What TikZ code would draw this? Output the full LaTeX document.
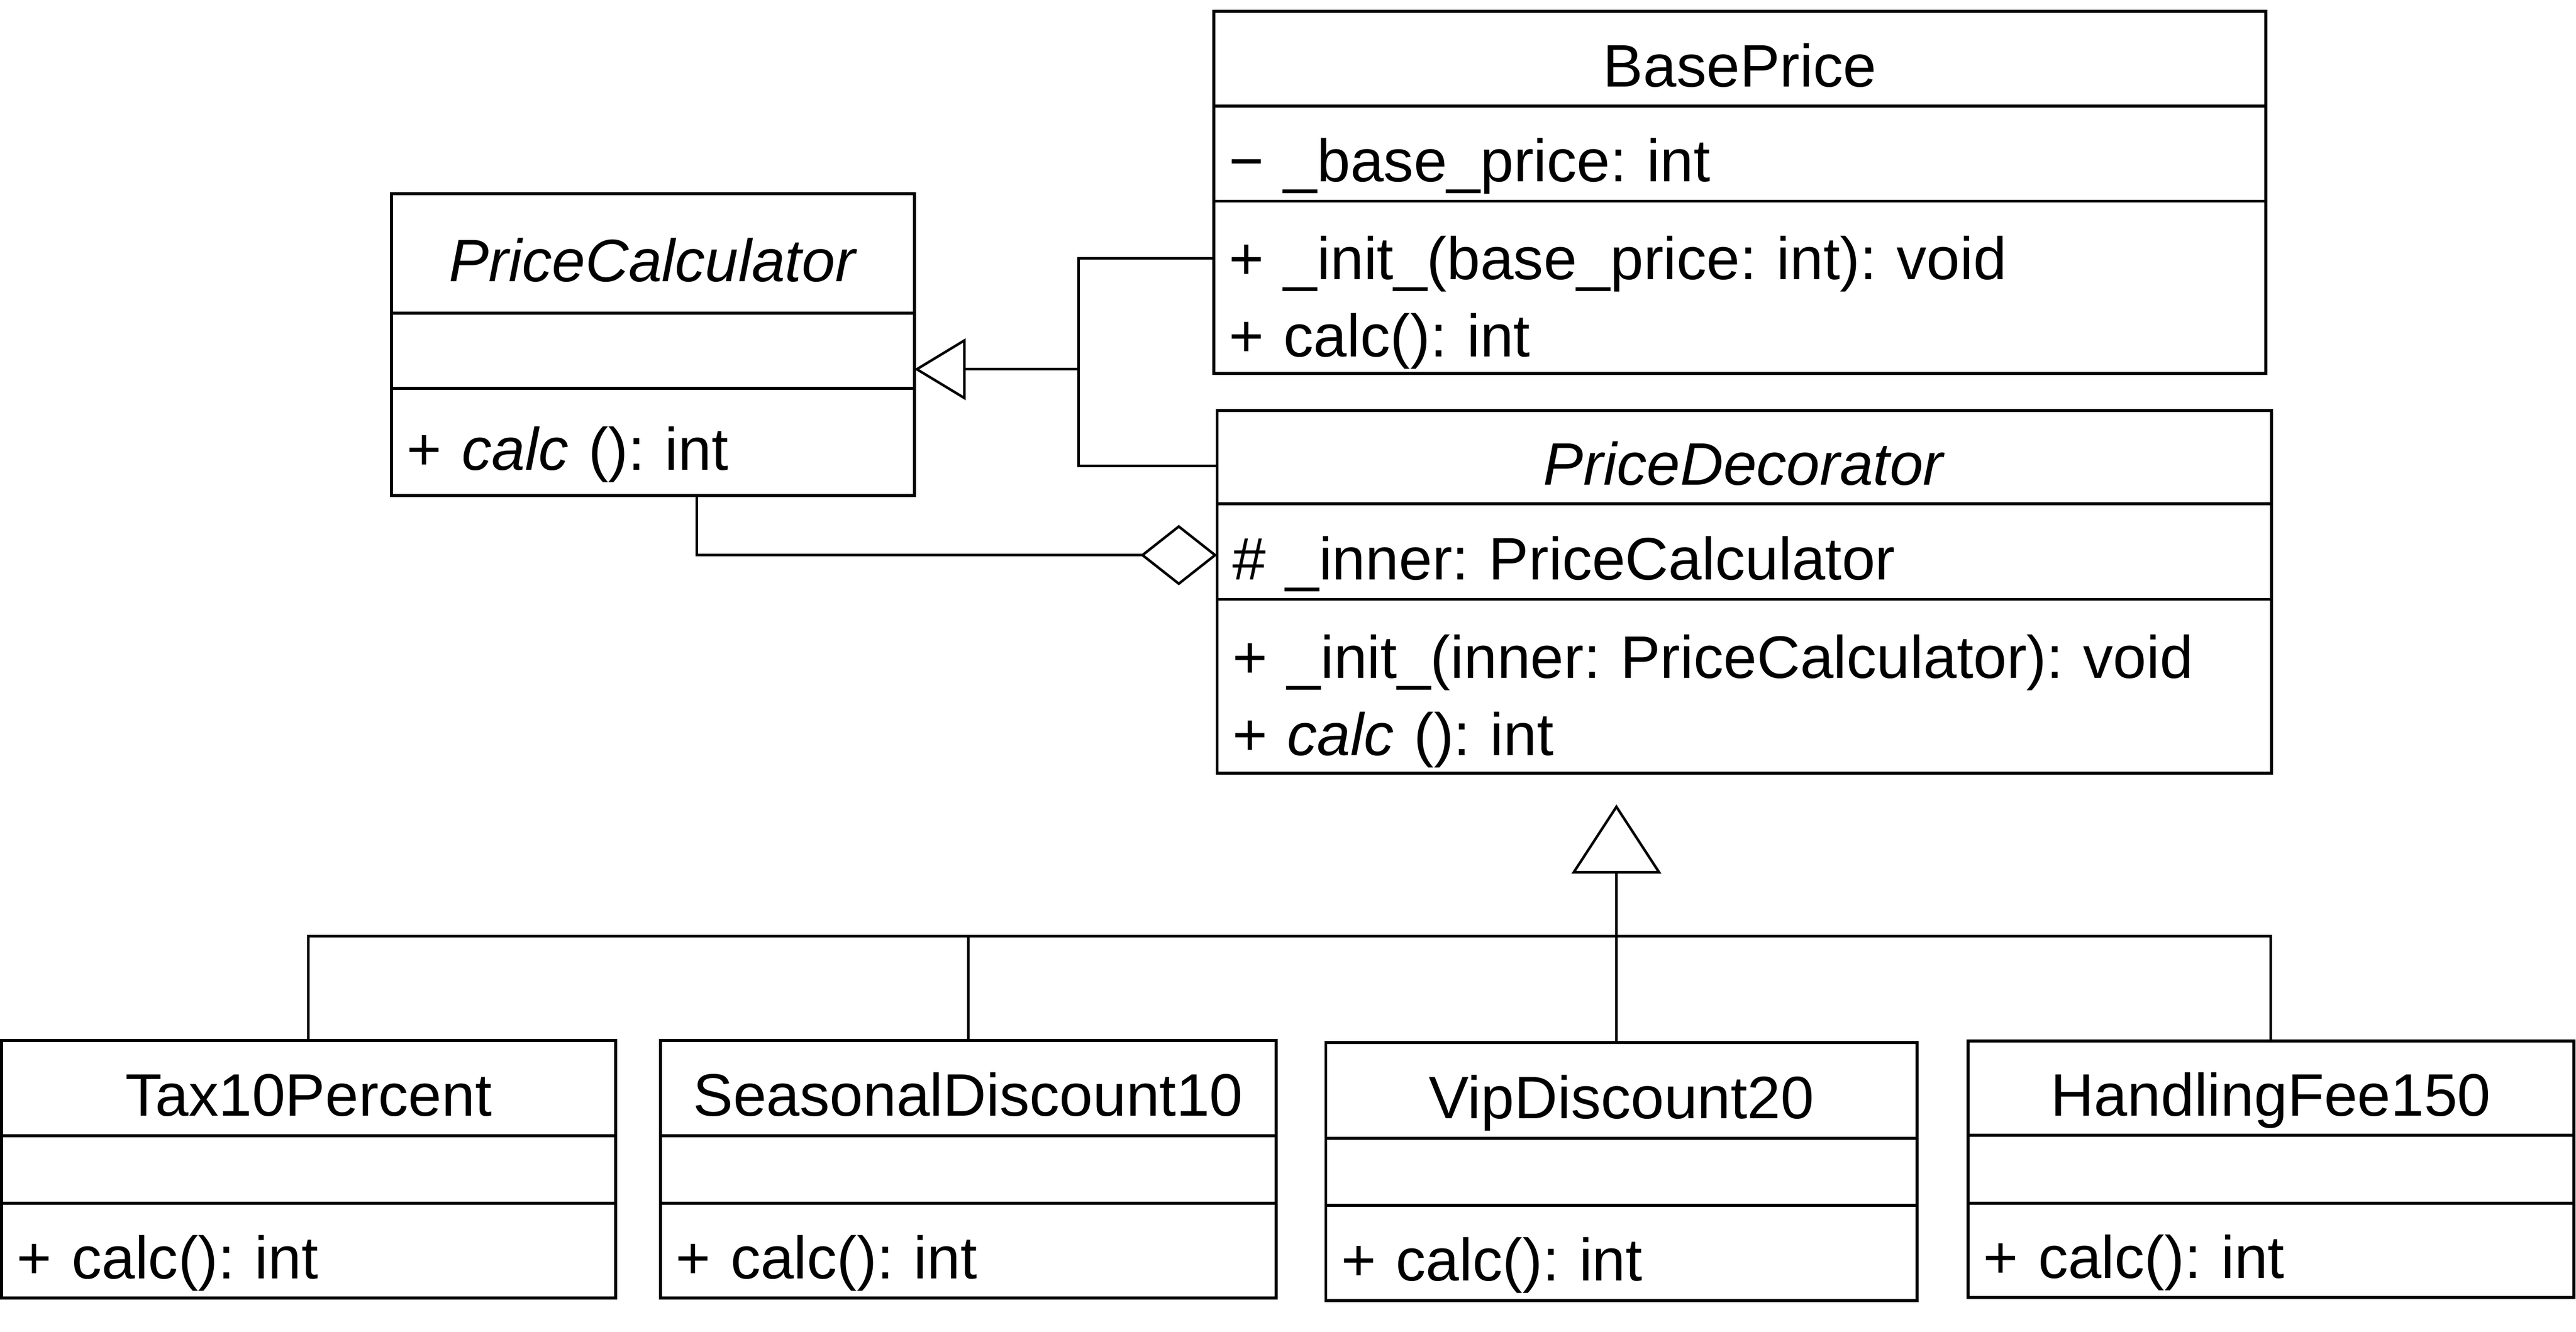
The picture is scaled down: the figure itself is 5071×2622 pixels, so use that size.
\documentclass[tikz,border=0pt]{standalone}
\usepackage{fontspec}
\setmainfont{Liberation Sans}
\usetikzlibrary{positioning,arrows.meta}
\newcommand\umlfont{\fontsize{11.8}{15.2}\selectfont}
\frenchspacing

\begin{document}
\begin{tikzpicture}
[x=0.1pt,y=-0.1pt,
 every node/.style={draw=black,line width=0.6pt,inner xsep=3pt,inner ysep=0pt,outer sep=0pt,font=\umlfont},
 clsname/.style={anchor=north west,text height=11pt,text depth=0pt},
 cmp/.style={align=left},
 oneline/.style={text height=11pt,text depth=0pt},
 twoline/.style={text height=12.1pt,text depth=15.2pt},
 gen/.style={-{Triangle[open,length=10.1pt,width=12.1pt]}},
 genb/.style={-{Triangle[open,length=13.6pt,width=17.6pt]}},
 agg/.style={{Diamond[open,length=15.1pt,width=11.9pt]}-},
 line width=0.5pt]
\useasboundingbox (0,0) rectangle (5071,2622);

% abstract component
\node[clsname,minimum width=102.9pt,minimum height=23.6pt] (pc) at (771,381) {\textit{PriceCalculator}};
\node[minimum width=102.9pt,minimum height=14.8pt] (pc-a) [below=0pt of pc] {};
\node[cmp,oneline,text width=96.9pt,minimum height=21.1pt] (pc-o) [below=0pt of pc-a] {+ \textit{calc} (): int};

% concrete component
\node[clsname,minimum width=207.2pt,minimum height=18.7pt] (bp) at (2389,22) {BasePrice};
\node[cmp,oneline,text width=201.2pt,minimum height=18.7pt] (bp-a) [below=0pt of bp] {− \_base\_price: int};
\node[cmp,twoline,text width=201.2pt,minimum height=33.9pt] (bp-o) [below=0pt of bp-a] {+ \_init\_(base\_price: int): void\\+ calc(): int};

% decorator
\node[clsname,minimum width=207.6pt,minimum height=18.4pt] (pd) at (2396,808) {\textit{PriceDecorator}};
\node[cmp,oneline,text width=201.6pt,minimum height=18.8pt] (pd-a) [below=0pt of pd] {\# \_inner: PriceCalculator};
\node[cmp,twoline,text width=201.6pt,minimum height=34.2pt] (pd-o) [below=0pt of pd-a] {+ \_init\_(inner: PriceCalculator): void\\+ \textit{calc} (): int};

% concrete decorators
\node[clsname,minimum width=120.9pt,minimum height=18.7pt] (tax) at (3,2049) {Tax10Percent};
\node[minimum width=120.9pt,minimum height=13.3pt] (tax-a) [below=0pt of tax] {};
\node[cmp,oneline,text width=114.9pt,minimum height=18.7pt] (tax-o) [below=0pt of tax-a] {+ calc(): int};

\node[clsname,minimum width=121.2pt,minimum height=18.7pt] (sd) at (1300,2049) {SeasonalDiscount10};
\node[minimum width=121.2pt,minimum height=13.3pt] (sd-a) [below=0pt of sd] {};
\node[cmp,oneline,text width=115.2pt,minimum height=18.7pt] (sd-o) [below=0pt of sd-a] {+ calc(): int};

\node[clsname,minimum width=116.4pt,minimum height=18.8pt] (vip) at (2610,2053) {VipDiscount20};
\node[minimum width=116.4pt,minimum height=13.2pt] (vip-a) [below=0pt of vip] {};
\node[cmp,oneline,text width=110.4pt,minimum height=18.8pt] (vip-o) [below=0pt of vip-a] {+ calc(): int};

\node[clsname,minimum width=119.3pt,minimum height=18.5pt] (hf) at (3874,2050) {HandlingFee150};
\node[minimum width=119.3pt,minimum height=13.4pt] (hf-a) [below=0pt of hf] {};
\node[cmp,oneline,text width=113.3pt,minimum height=18.6pt] (hf-o) [below=0pt of hf-a] {+ calc(): int};

% generalization to the component
\coordinate (gj) at (2123,727);
\draw ([yshift=5.65pt]bp-o.west) -| (gj);
\draw ([yshift=-1.7pt]pd.west) -| (gj);
\draw[gen] (gj) -- (gj -| pc-a.east);

% aggregation
\draw[agg] ([yshift=-0.7pt]pd-a.west) -| ([xshift=8.65pt]pc-o.south);

% generalization to the decorator
\coordinate (gb) at (3182,1843);
\draw (tax.north) |- (gb) -| (hf.north);
\draw (sd.north) -- (sd.north |- gb);
\draw[genb,shorten >=6.2pt] (gb |- vip.north) -- (gb |- pd-o.south);
\end{tikzpicture}
\end{document}
